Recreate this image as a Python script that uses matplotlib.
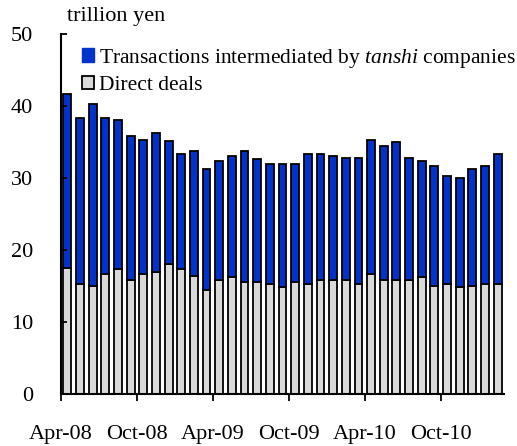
import matplotlib
matplotlib.use("Agg")
import matplotlib.pyplot as plt
import numpy as np
from matplotlib.patches import Patch

plt.rcParams['font.family'] = ['Liberation Serif', 'DejaVu Serif']
plt.rcParams['mathtext.fontset'] = 'custom'
plt.rcParams['mathtext.it'] = 'Liberation Serif:italic'
plt.rcParams['mathtext.rm'] = 'Liberation Serif'

months = ['Apr-08','May-08','Jun-08','Jul-08','Aug-08','Sep-08','Oct-08','Nov-08','Dec-08',
          'Jan-09','Feb-09','Mar-09','Apr-09','May-09','Jun-09','Jul-09','Aug-09','Sep-09',
          'Oct-09','Nov-09','Dec-09','Jan-10','Feb-10','Mar-10','Apr-10','May-10','Jun-10',
          'Jul-10','Aug-10','Sep-10','Oct-10','Nov-10','Dec-10','Jan-11','Feb-11']
totals = [41.7, 38.4, 40.3, 38.4, 38.1, 35.9, 35.3, 36.2, 35.1, 33.4, 33.7, 31.2,
          32.3, 33.1, 33.7, 32.6, 32.0, 32.0, 31.9, 33.4, 33.4, 33.1, 32.8, 32.8,
          35.3, 34.5, 35.0, 32.8, 32.3, 31.7, 30.3, 30.0, 31.2, 31.7, 33.4]
direct = [17.5, 15.3, 15.0, 16.7, 17.3, 15.9, 16.7, 17.0, 18.1, 17.3, 16.4, 14.5,
          15.9, 16.2, 15.6, 15.6, 15.3, 14.8, 15.6, 15.3, 15.9, 15.9, 15.9, 15.3,
          16.7, 15.9, 15.9, 15.9, 16.2, 15.0, 15.3, 14.8, 15.0, 15.3, 15.3]
tanshi = [t - d for t, d in zip(totals, direct)]
tick_labels = ['Apr-08', 'Oct-08', 'Apr-09', 'Oct-09', 'Apr-10', 'Oct-10']

blue = '#0033cc'
gray = '#d9d9d9'

fig = plt.figure(figsize=(5.17, 4.46), dpi=100)
ax = fig.add_axes([61/517, 1-394/446, (504-61)/517, (394-34)/446])

x = np.arange(len(months)) + 0.5
w = 0.62
ax.bar(x, direct, width=w, color=gray, edgecolor='black', linewidth=1.3)
ax.bar(x, tanshi, bottom=direct, width=w, color=blue, edgecolor='black', linewidth=1.3)

ax.set_xlim(0, len(months))
ax.set_ylim(0, 50)
ax.set_yticks([0, 10, 20, 30, 40, 50])
ax.set_xticks(np.arange(0, len(months), 6))
ax.set_xticklabels(tick_labels)
ax.tick_params(axis='y', direction='in', length=4, width=1.3, labelsize=16, pad=20)
ax.tick_params(axis='x', direction='out', length=5, width=1.3, labelsize=16, pad=17)
for s in ['top', 'right']:
    ax.spines[s].set_visible(False)
for s in ['left', 'bottom']:
    ax.spines[s].set_linewidth(1.5)

fig.text(67/517, 1-16/446, 'trillion yen', fontsize=16, va='center', ha='left')

handles = [Patch(facecolor=blue, edgecolor=blue),
           Patch(facecolor=gray, edgecolor='black', linewidth=1.3)]
labels = ['Transactions intermediated by $\\it{tanshi}$ companies', 'Direct deals']
ax.legend(handles, labels, loc='upper left', bbox_to_anchor=(0.047, 0.965), frameon=False,
          fontsize=15.5, handlelength=0.58, handleheight=0.58, handletextpad=0.23,
          labelspacing=0.3, borderaxespad=0, borderpad=0)

fig.savefig('out.png', dpi=100)
